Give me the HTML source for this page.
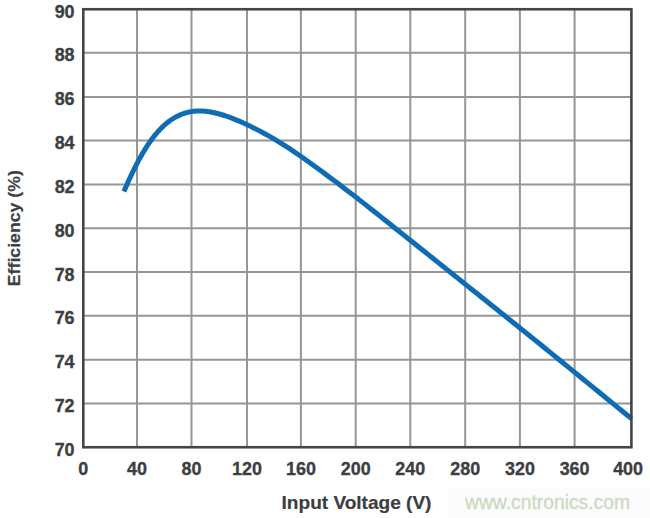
<!DOCTYPE html>
<html><head><meta charset="utf-8"><style>
html,body{margin:0;padding:0;background:#fff;width:650px;height:518px;overflow:hidden}
svg{display:block}
text{font-family:"Liberation Sans",sans-serif}
</style></head><body>
<svg width="650" height="518" viewBox="0 0 650 518">
<rect x="448" y="488" width="202" height="30" fill="#fcfcfc"/>
<g stroke="#969696" stroke-width="2" fill="none"><line x1="137.0" y1="9" x2="137.0" y2="447"/><line x1="191.5" y1="9" x2="191.5" y2="447"/><line x1="247.0" y1="9" x2="247.0" y2="447"/><line x1="300.9" y1="9" x2="300.9" y2="447"/><line x1="355.7" y1="9" x2="355.7" y2="447"/><line x1="410.3" y1="9" x2="410.3" y2="447"/><line x1="465.2" y1="9" x2="465.2" y2="447"/><line x1="519.9" y1="9" x2="519.9" y2="447"/><line x1="574.6" y1="9" x2="574.6" y2="447"/><line x1="83" y1="52.86" x2="631" y2="52.86"/><line x1="83" y1="96.9" x2="631" y2="96.9"/><line x1="83" y1="140.4" x2="631" y2="140.4"/><line x1="83" y1="184.4" x2="631" y2="184.4"/><line x1="83" y1="228.35" x2="631" y2="228.35"/><line x1="83" y1="272.0" x2="631" y2="272.0"/><line x1="83" y1="315.8" x2="631" y2="315.8"/><line x1="83" y1="359.7" x2="631" y2="359.7"/><line x1="83" y1="403.4" x2="631" y2="403.4"/></g>
<path d="M123.90,191.55 L125.00,188.96 L126.11,186.41 L127.21,183.91 L128.31,181.44 L129.41,179.02 L130.52,176.64 L131.62,174.31 L132.72,172.02 L133.83,169.77 L134.93,167.56 L136.03,165.39 L137.13,163.27 L138.24,161.19 L139.34,159.16 L140.44,157.17 L141.55,155.22 L142.65,153.32 L143.75,151.46 L144.86,149.65 L145.96,147.88 L147.06,146.16 L148.16,144.48 L149.27,142.85 L150.37,141.27 L151.47,139.73 L152.58,138.24 L153.68,136.80 L154.78,135.40 L155.88,134.05 L156.99,132.75 L158.09,131.49 L159.19,130.27 L160.30,129.10 L161.40,127.98 L162.50,126.89 L163.60,125.85 L164.71,124.86 L165.81,123.90 L166.91,122.99 L168.02,122.11 L169.12,121.28 L170.22,120.48 L171.32,119.72 L172.43,119.00 L173.53,118.31 L174.63,117.66 L175.74,117.04 L176.84,116.46 L177.94,115.91 L179.04,115.39 L180.15,114.90 L181.25,114.45 L182.35,114.02 L183.46,113.62 L184.56,113.25 L185.66,112.91 L186.77,112.60 L187.87,112.32 L188.97,112.06 L190.07,111.84 L191.18,111.63 L192.28,111.46 L193.38,111.31 L194.49,111.18 L195.59,111.08 L196.69,111.01 L197.79,110.96 L198.90,110.93 L200.00,110.93 L201.00,110.94 L205.84,111.26 L210.67,111.95 L215.51,112.96 L220.35,114.24 L225.19,115.75 L230.02,117.45 L234.86,119.32 L239.70,121.34 L244.53,123.49 L249.37,125.77 L254.21,128.15 L259.04,130.63 L263.88,133.21 L268.72,135.90 L273.56,138.70 L278.39,141.60 L283.23,144.61 L288.07,147.72 L292.90,150.92 L297.74,154.21 L302.58,157.57 L307.42,161.00 L312.25,164.48 L317.09,167.99 L321.93,171.54 L326.76,175.12 L331.60,178.73 L336.44,182.35 L341.28,186.00 L346.11,189.67 L350.95,193.37 L355.79,197.10 L360.62,200.85 L365.46,204.64 L370.30,208.46 L375.13,212.29 L379.97,216.13 L384.81,219.98 L389.65,223.83 L394.48,227.68 L399.32,231.53 L404.16,235.38 L408.99,239.23 L413.83,243.08 L418.67,246.93 L423.51,250.78 L428.34,254.63 L433.18,258.49 L438.02,262.35 L442.85,266.21 L447.69,270.08 L452.53,273.95 L457.37,277.83 L462.20,281.70 L467.04,285.58 L471.88,289.45 L476.71,293.32 L481.55,297.20 L486.39,301.07 L491.22,304.95 L496.06,308.82 L500.90,312.69 L505.74,316.57 L510.57,320.44 L515.41,324.32 L520.25,328.20 L525.08,332.09 L529.92,335.99 L534.76,339.90 L539.60,343.81 L544.43,347.74 L549.27,351.67 L554.11,355.60 L558.94,359.53 L563.78,363.46 L568.62,367.40 L573.46,371.34 L578.29,375.28 L583.13,379.22 L587.97,383.16 L592.80,387.11 L597.64,391.05 L602.48,395.00 L607.31,398.94 L612.15,402.88 L616.99,406.83 L621.83,410.77 L626.66,414.72 L631.50,418.66" fill="none" stroke="#0d6cb4" stroke-width="5.0" stroke-linejoin="round"/>
<rect x="83.3" y="9.25" width="548.1" height="438" fill="none" stroke="#41464b" stroke-width="2.6"/>
<g font-weight="bold" font-size="17.6" fill="#3b3e42" stroke="#3b3e42" stroke-width="0.3" text-anchor="end"><text transform="translate(74.6,17.75) scale(1.02,1)">90</text><text transform="translate(74.6,61.36) scale(1.02,1)">88</text><text transform="translate(74.6,105.40) scale(1.02,1)">86</text><text transform="translate(74.6,148.90) scale(1.02,1)">84</text><text transform="translate(74.6,192.90) scale(1.02,1)">82</text><text transform="translate(74.6,236.85) scale(1.02,1)">80</text><text transform="translate(74.6,280.50) scale(1.02,1)">78</text><text transform="translate(74.6,324.30) scale(1.02,1)">76</text><text transform="translate(74.6,368.20) scale(1.02,1)">74</text><text transform="translate(74.6,411.90) scale(1.02,1)">72</text><text transform="translate(74.6,455.75) scale(1.02,1)">70</text></g>
<g font-weight="bold" font-size="17.6" fill="#3b3e42" stroke="#3b3e42" stroke-width="0.3" text-anchor="middle"><text transform="translate(83.30,474.5) scale(1.02,1)">0</text><text transform="translate(137.00,474.5) scale(1.02,1)">40</text><text transform="translate(191.50,474.5) scale(1.02,1)">80</text><text transform="translate(247.00,474.5) scale(1.02,1)">120</text><text transform="translate(300.90,474.5) scale(1.02,1)">160</text><text transform="translate(355.70,474.5) scale(1.02,1)">200</text><text transform="translate(410.30,474.5) scale(1.02,1)">240</text><text transform="translate(465.20,474.5) scale(1.02,1)">280</text><text transform="translate(519.90,474.5) scale(1.02,1)">320</text><text transform="translate(574.60,474.5) scale(1.02,1)">360</text><text transform="translate(628.10,474.5) scale(1.02,1)">400</text></g>
<text transform="translate(356.5,508.6) scale(1.077,1)" font-weight="bold" font-size="17.7" fill="#3b3e42" stroke="#3b3e42" stroke-width="0.2" text-anchor="middle">Input Voltage (V)</text>
<text transform="translate(19.6,228.2) scale(0.98,1) rotate(-90)" font-weight="bold" font-size="17.7" fill="#3b3e42" stroke="#3b3e42" stroke-width="0.2" text-anchor="middle">Efficiency (%)</text>
<text x="465.0" y="508.5" font-size="19.3" fill="#c8dbc1" stroke="#c8dbc1" stroke-width="0.3">www.cntronics.com</text>
</svg>
</body></html>
